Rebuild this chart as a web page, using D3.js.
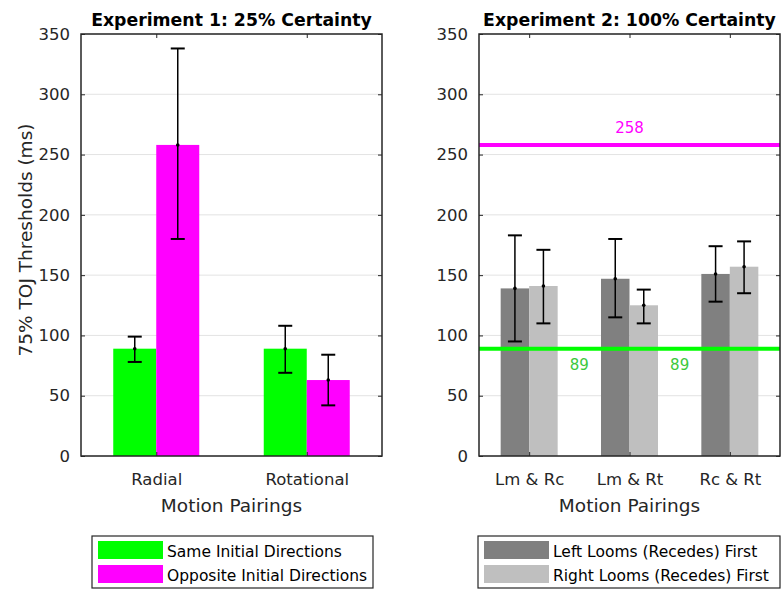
<!DOCTYPE html>
<html>
<head>
<meta charset="utf-8">
<script src="https://cdn.jsdelivr.net/npm/d3@7"></script>
<style>
  body { margin: 0; background: #fff; }
  svg { font-family: "DejaVu Sans", "Liberation Sans", Arial, sans-serif; }
</style>
</head>
<body>
<svg width="781" height="592"></svg>
<script>
// ---- data ----
const exp1Categories = ["Radial", "Rotational"];
const exp1Series = ["Same Initial Directions", "Opposite Initial Directions"];
const exp1Means = [[89, 258], [89, 63]];
const exp1Lower = [[78, 180], [69, 42]];
const exp1Upper = [[99, 338], [108, 84]];

const exp2Categories = ["Lm & Rc", "Lm & Rt", "Rc & Rt"];
const exp2Series = ["Left Looms (Recedes) First", "Right Looms (Recedes) First"];
const exp2Means = [[139, 141], [147, 125], [151, 157]];
const exp2Lower = [[95, 110], [115, 110], [128, 135]];
const exp2Upper = [[183, 171], [180, 138], [174, 178]];

const refValues = [258, 89];
const yTicks = [0, 50, 100, 150, 200, 250, 300, 350];

const svg = d3.select("svg");
const plotTop = 34, plotBottom = 456;
const fontFam = '"DejaVu Sans", "Liberation Sans", Arial, sans-serif';

const yScale = d3.scaleLinear().domain([0, 350]).range([plotBottom, plotTop]);

function styleAxis(ax) {
  ax.attr("font-family", fontFam).attr("font-size", 16.5);
  ax.select(".domain").remove();
  ax.selectAll(".tick line").attr("stroke", "#262626");
  ax.selectAll(".tick text").attr("fill", "#262626");
}

function panel(opts) {
  const { left, right, title, categories, means, lower, upper, colors } = opts;
  const g = svg.append("g");

  const xScale = d3
    .scaleLinear()
    .domain([0.5, categories.length + 0.5])
    .range([left, right]);

  // grid
  g.selectAll(".grid")
    .data(yTicks)
    .enter()
    .append("line")
    .attr("x1", left)
    .attr("x2", right)
    .attr("y1", (d) => yScale(d))
    .attr("y2", (d) => yScale(d))
    .attr("stroke", "#e3e3e3")
    .attr("stroke-width", 1);

  // bars
  const bw = opts.barWidth;
  const nS = colors.length;
  const rows = [];
  means.forEach((arr, i) =>
    arr.forEach((v, j) =>
      rows.push({ i, j, v, lo: lower[i][j], hi: upper[i][j] })
    )
  );
  const bx = (d) => xScale(d.i + 1) + (d.j - nS / 2) * bw;

  g.selectAll(".bar")
    .data(rows)
    .enter()
    .append("rect")
    .attr("x", bx)
    .attr("width", bw)
    .attr("y", (d) => yScale(d.v))
    .attr("height", (d) => yScale(0) - yScale(d.v))
    .attr("fill", (d) => colors[d.j]);

  if (opts.after) opts.after(g, xScale);

  // error bars
  const eb = g.selectAll(".err").data(rows).enter().append("g");
  const cx = (d) => bx(d) + bw / 2;
  eb.append("line")
    .attr("x1", cx).attr("x2", cx)
    .attr("y1", (d) => yScale(d.lo)).attr("y2", (d) => yScale(d.hi))
    .attr("stroke", "#000").attr("stroke-width", 1.5);
  ["lo", "hi"].forEach((k) =>
    eb.append("line")
      .attr("x1", (d) => cx(d) - 7).attr("x2", (d) => cx(d) + 7)
      .attr("y1", (d) => yScale(d[k])).attr("y2", (d) => yScale(d[k]))
      .attr("stroke", "#000").attr("stroke-width", 2)
  );
  eb.append("circle")
    .attr("cx", cx).attr("cy", (d) => yScale(d.v))
    .attr("r", 1.8).attr("fill", "#000");

  // axes
  const yAxis = g.append("g")
    .attr("transform", `translate(${left},0)`)
    .call(d3.axisLeft(yScale).tickValues(yTicks).tickSize(-4).tickPadding(11));
  styleAxis(yAxis);

  const yAxisR = g.append("g")
    .attr("transform", `translate(${right},0)`)
    .call(d3.axisRight(yScale).tickValues(yTicks).tickSize(-4).tickFormat(""));
  styleAxis(yAxisR);

  const xAxis = g.append("g")
    .attr("transform", `translate(0,${plotBottom})`)
    .call(
      d3.axisBottom(xScale)
        .tickValues(d3.range(1, categories.length + 1))
        .tickFormat((d) => categories[d - 1])
        .tickSize(-4)
        .tickPadding(17)
    );
  styleAxis(xAxis);

  const xAxisT = g.append("g")
    .attr("transform", `translate(0,${plotTop})`)
    .call(
      d3.axisTop(xScale)
        .tickValues(d3.range(1, categories.length + 1))
        .tickSize(-4)
        .tickFormat("")
    );
  styleAxis(xAxisT);

  g.append("rect")
    .attr("x", left).attr("y", plotTop)
    .attr("width", right - left).attr("height", plotBottom - plotTop)
    .attr("fill", "none").attr("stroke", "#262626").attr("stroke-width", 1.5);

  g.append("text")
    .attr("x", (left + right) / 2).attr("y", 26)
    .attr("text-anchor", "middle")
    .attr("font-weight", "bold").attr("font-size", 17.3)
    .attr("fill", "#000")
    .text(title);

  g.append("text")
    .attr("x", (left + right) / 2).attr("y", 512)
    .attr("text-anchor", "middle")
    .attr("font-size", 18.5).attr("fill", "#262626")
    .text("Motion Pairings");

  // legend
  const L = opts.legend;
  const lg = g.append("g");
  lg.append("rect")
    .attr("x", L.x).attr("y", 536)
    .attr("width", L.w).attr("height", 52)
    .attr("fill", "#fff").attr("stroke", "#262626").attr("stroke-width", 1.2);
  opts.series.forEach((s, j) => {
    lg.append("rect")
      .attr("x", L.x + 6).attr("y", 541 + j * 24)
      .attr("width", 65).attr("height", 18)
      .attr("fill", colors[j]);
    lg.append("text")
      .attr("x", L.x + 75).attr("y", 557 + j * 24)
      .attr("font-size", 15.5).attr("fill", "#000")
      .text(s);
  });
}

panel({
  left: 81,
  right: 382,
  title: "Experiment 1: 25% Certainty",
  categories: exp1Categories,
  series: exp1Series,
  means: exp1Means,
  lower: exp1Lower,
  upper: exp1Upper,
  colors: ["#00ff00", "#ff00ff"],
  barWidth: 43,
  legend: { x: 92, w: 281 },
});

panel({
  left: 479,
  right: 780,
  title: "Experiment 2: 100% Certainty",
  categories: exp2Categories,
  series: exp2Series,
  means: exp2Means,
  lower: exp2Lower,
  upper: exp2Upper,
  colors: ["#808080", "#bfbfbf"],
  barWidth: 28.5,
  legend: { x: 478, w: 302 },
  after: (g, xScale) => {
    const refColors = ["#ff00ff", "#00ff00"];
    g.selectAll(".ref")
      .data(refValues)
      .enter()
      .append("line")
      .attr("x1", 479).attr("x2", 780)
      .attr("y1", (d) => yScale(d)).attr("y2", (d) => yScale(d))
      .attr("stroke", (d, i) => refColors[i])
      .attr("stroke-width", 4);
    g.append("text")
      .attr("x", xScale(2)).attr("y", yScale(refValues[0]) - 12)
      .attr("text-anchor", "middle").attr("font-size", 15)
      .attr("fill", "#ff00ff")
      .text(refValues[0]);
    [1.5, 2.5].forEach((p) =>
      g.append("text")
        .attr("x", xScale(p)).attr("y", yScale(refValues[1]) + 21)
        .attr("text-anchor", "middle").attr("font-size", 15)
        .attr("fill", "#3cc83c")
        .text(refValues[1])
    );
  },
});

// shared y label
svg.append("text")
  .attr("transform", `translate(32,${(plotTop + plotBottom) / 2 - 5}) rotate(-90)`)
  .attr("text-anchor", "middle")
  .attr("font-size", 18.5).attr("fill", "#262626")
  .text("75% TOJ Thresholds (ms)");
</script>
</body>
</html>
